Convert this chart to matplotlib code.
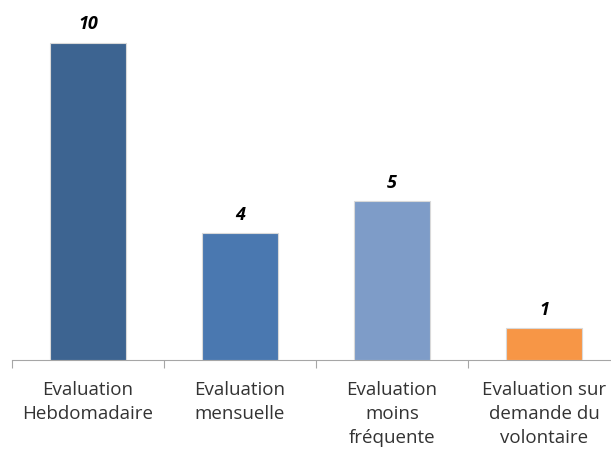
import matplotlib.pyplot as plt
import numpy as np

categories = ["Evaluation\nHebdomadaire", "Evaluation\nmensuelle",
              "Evaluation\nmoins\nfréquente", "Evaluation sur\ndemande du\nvolontaire"]
values = [10, 4, 5, 1]
colors = ["#3D6491", "#4A78B0", "#7E9CC8", "#F79646"]

W, H = 611, 453
fig = plt.figure(figsize=(W / 100, H / 100), dpi=100)
# axis spans past the right edge, as in the reference
ax = fig.add_axes([12 / W, (H - 360) / H, 608 / W, 345 / H])

x = np.arange(len(values))
bars = ax.bar(x, values, width=0.5, color=colors, edgecolor="#D9D9D9", linewidth=0.8, zorder=3)

for b, v in zip(bars, values):
    ax.text(b.get_x() + b.get_width() / 2, v + 0.3, str(v), ha="center", va="bottom",
            fontsize=13, fontweight="bold", fontstyle="italic", family="Open Sans", color="black")

ax.set_xlim(-0.5, len(values) - 0.5)
ax.set_ylim(0, 10.88)

for s in ["top", "right", "left"]:
    ax.spines[s].set_visible(False)
ax.spines["bottom"].set_color("#A6A6A6")
ax.set_yticks([])

ax.set_xticks(np.arange(len(values) + 1) - 0.5)
ax.set_xticklabels([])
ax.tick_params(axis="x", length=6, color="#A6A6A6")
ax.set_xticks(x, minor=True)
ax.set_xticklabels(categories, minor=True, fontsize=13.5, family="Open Sans", color="#333333",
                   linespacing=1.45)
ax.tick_params(axis="x", which="minor", length=0, pad=15)

fig.savefig("out.png", dpi=100)
